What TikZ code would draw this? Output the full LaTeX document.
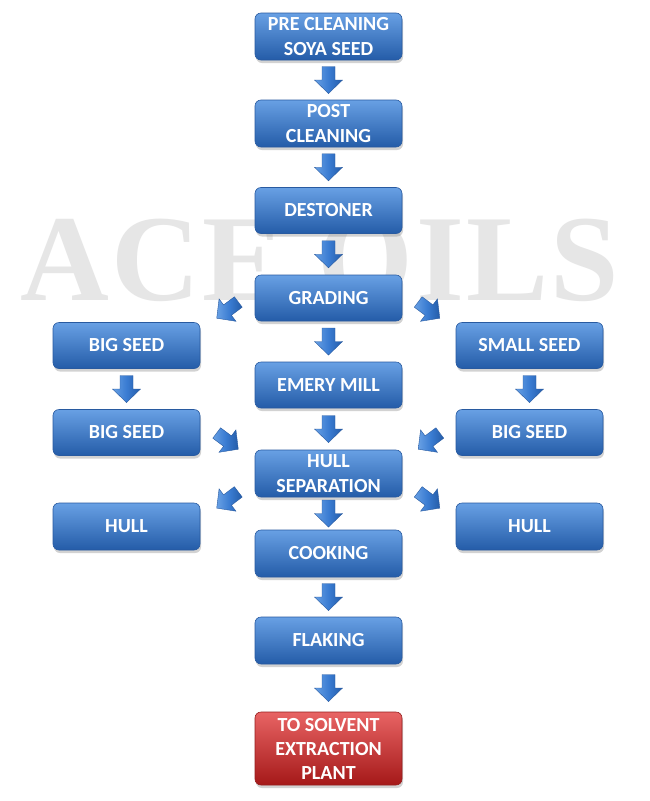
\documentclass[tikz,border=0pt]{standalone}
\usepackage{fontspec}
\usetikzlibrary{calc,shadows}
\newfontfamily\boxfont{Carlito}
\newfontfamily\markfont[LetterSpace=2]{Liberation Serif}
\definecolor{bA}{RGB}{104,160,228}
\definecolor{bB}{RGB}{58,124,210}
\definecolor{bC}{RGB}{36,92,168}
\definecolor{bEdge}{RGB}{40,90,160}
\definecolor{rA}{RGB}{232,100,100}
\definecolor{rB}{RGB}{208,50,50}
\definecolor{rC}{RGB}{165,25,25}
\definecolor{rEdge}{RGB}{150,30,30}
\definecolor{wmark}{RGB}{230,230,230}
\tikzset{
  stepbox/.style={rectangle, rounded corners=6pt, minimum width=147pt, minimum height=46pt,
    inner sep=0pt, align=center, text=white, draw=bEdge, line width=0.6pt,
    top color=bA, middle color=bB, bottom color=bC,
    font=\boxfont\bfseries\fontsize{20}{25}\selectfont,
    drop shadow={shadow xshift=1pt, shadow yshift=-3pt, opacity=0.35}},
  endbox/.style={stepbox, draw=rEdge, top color=rA, middle color=rB, bottom color=rC,
    minimum height=73pt, font=\boxfont\bfseries\fontsize{20}{24}\selectfont},
  arrowfill/.style={draw=bEdge, line width=0.4pt, left color=bA, right color=bC, middle color=bB},
  barrow/.pic={\path[arrowfill] (-6.5,-13.5) -- (6.5,-13.5) -- (6.5,0) -- (14,0) -- (0,13.5) -- (-14,0) -- (-6.5,0) -- cycle;}
}
\newcommand\flowarrow[3]{\pic[rotate=#3] at ($(#1)!0.5!(#2)$) {barrow};}
\begin{document}
\begin{tikzpicture}[x=1pt,y=-1pt]
\useasboundingbox[fill=white] (0,0) rectangle (649,801);
% watermark
\node[anchor=base west, inner sep=0pt, text=wmark, font=\markfont\bfseries\fontsize{123}{123}\selectfont] (wm) at (20,300) {ACE OILS};
% centre column
\node[stepbox, minimum height=47pt] (pre) at (328.5,36.5) {PRE CLEANING\\SOYA SEED};
\node[stepbox, minimum height=47pt] (post) at (328.5,123.5) {POST\\CLEANING};
\node[stepbox] (dest) at (328.5,210.5) {DESTONER};
\node[stepbox] (grad) at (328.5,298) {GRADING};
\node[stepbox] (emery) at (328.5,385) {EMERY MILL};
\node[stepbox, minimum height=47pt] (hsep) at (328.5,473.5) {HULL\\SEPARATION};
\node[stepbox, minimum height=47pt] (cook) at (328.5,553.5) {COOKING};
\node[stepbox, minimum height=47pt] (flake) at (328.5,640.5) {FLAKING};
\node[endbox] (plant) at (328.5,748.5) {TO SOLVENT\\EXTRACTION\\PLANT};
% left column
\node[stepbox] (bigA) at (126.5,345.5) {BIG SEED};
\node[stepbox] (bigB) at (126.5,432.5) {BIG SEED};
\node[stepbox, minimum height=47pt] (hullL) at (126.5,526.5) {HULL};
% right column
\node[stepbox] (small) at (529.5,345.5) {SMALL SEED};
\node[stepbox] (bigR) at (529.5,432.5) {BIG SEED};
\node[stepbox, minimum height=47pt] (hullR) at (529.5,526.5) {HULL};
% arrows
\flowarrow{pre.south}{post.north}{0}
\flowarrow{post.south}{dest.north}{0}
\flowarrow{dest.south}{grad.north}{0}
\flowarrow{grad.south}{emery.north}{0}
\flowarrow{emery.south}{hsep.north}{0}
\flowarrow{hsep.south}{cook.north}{0}
\flowarrow{cook.south}{flake.north}{0}
\flowarrow{flake.south}{plant.north}{0}
\flowarrow{bigA.south}{bigB.north}{0}
\flowarrow{small.south}{bigR.north}{0}
\flowarrow{grad.west}{bigA.north east}{-53}
\flowarrow{grad.east}{small.north west}{53}
\flowarrow{bigB.east}{hsep.north west}{53}
\flowarrow{bigR.west}{hsep.north east}{-53}
\flowarrow{hsep.south west}{hullL.north east}{-53}
\flowarrow{hsep.south east}{hullR.north west}{53}
\end{tikzpicture}
\end{document}
